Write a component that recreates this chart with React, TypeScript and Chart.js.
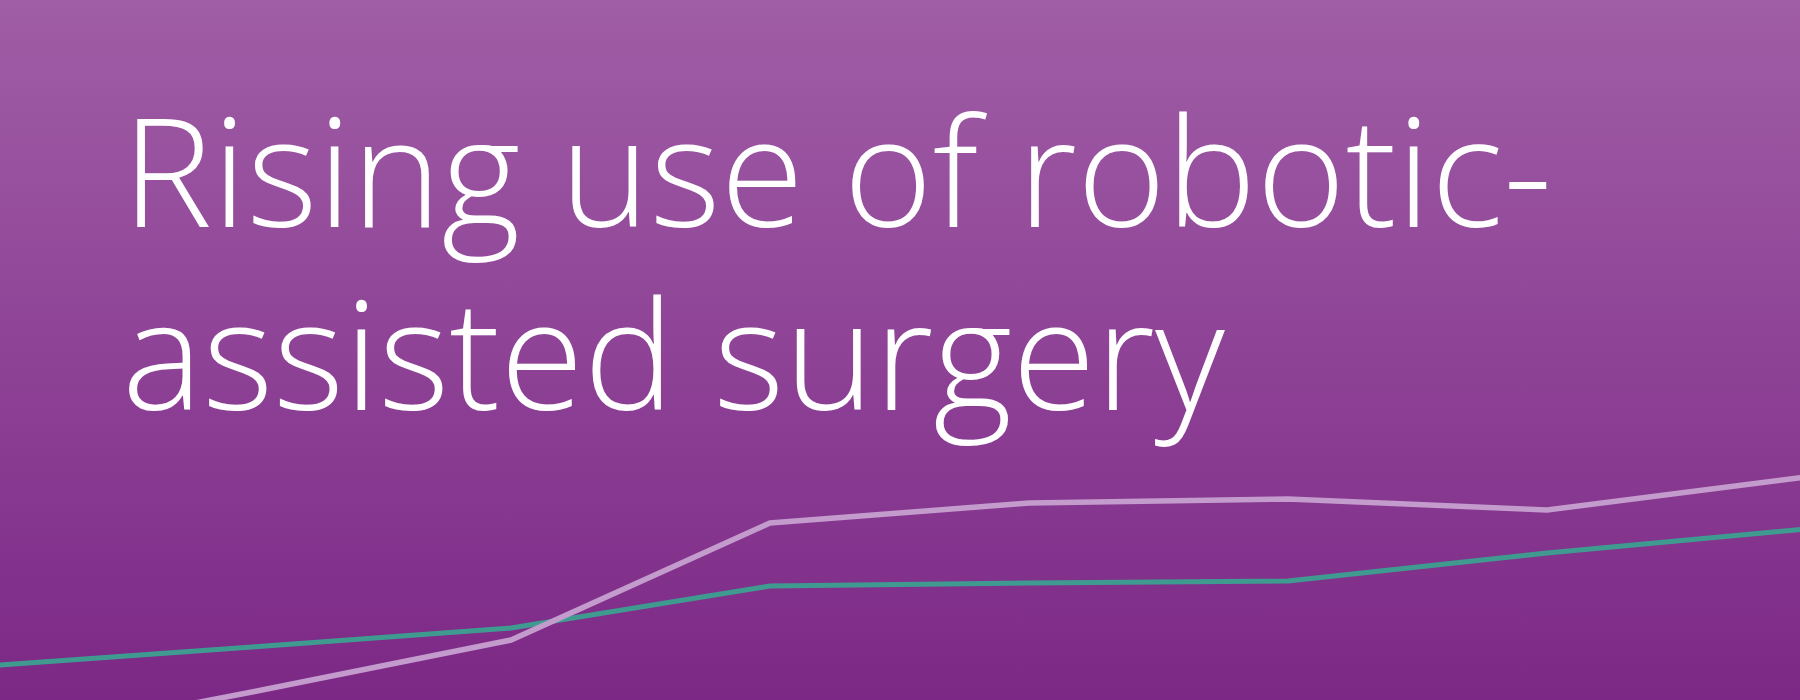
import { useEffect, useRef } from 'react';
import { Chart, registerables, type ChartConfiguration } from 'chart.js';

Chart.register(...registerables);

// Years are not shown in the graphic; they only index the points.
const YEARS = ['2012', '2013', '2014', '2015', '2016', '2017', '2018', '2019'];
const SERIES_A = [-0.2, 4.8, 10.0, 21.7, 23.7, 24.1, 23.0, 26.3];
const SERIES_B = [7.45, 9.3, 11.2, 15.4, 15.7, 15.9, 18.7, 21.1];
const Y_MIN = 4;
const Y_MAX = 74;

const TITLE = 'Rising use of robotic-assisted surgery';

function LineChart() {
  const canvasRef = useRef<HTMLCanvasElement | null>(null);
  const chartRef = useRef<Chart | null>(null);

  useEffect(() => {
    const canvas = canvasRef.current;
    if (!canvas) return;

    const config: ChartConfiguration<'line'> = {
      type: 'line',
      data: {
        labels: YEARS,
        datasets: [
          {
            label: 'Series A',
            data: SERIES_A,
            borderColor: '#c39bcc',
            borderWidth: 5.5,
            pointRadius: 0,
            tension: 0,
            fill: false,
          },
          {
            label: 'Series B',
            data: SERIES_B,
            borderColor: '#3f9b90',
            borderWidth: 5,
            pointRadius: 0,
            tension: 0,
            fill: false,
          },
        ],
      },
      options: {
        responsive: true,
        maintainAspectRatio: false,
        animation: false,
        layout: { padding: 0 },
        plugins: {
          legend: { display: false },
          tooltip: { enabled: false },
        },
        scales: {
          x: { display: false, offset: false },
          y: { display: false, min: Y_MIN, max: Y_MAX },
        },
      },
    };

    chartRef.current = new Chart(canvas, config);
    return () => chartRef.current?.destroy();
  }, []);

  return (
    <div style={{ position: 'absolute', left: -7, top: 0, width: 1813, height: 700 }}>
      <canvas ref={canvasRef} role='img' aria-label={TITLE} />
    </div>
  );
}

export default function App() {
  return (
    <div
      style={{
        position: 'fixed',
        left: 0,
        top: 0,
        width: 1800,
        height: 700,
        overflow: 'hidden',
        background: 'linear-gradient(180deg, #a05ea6 0%, #7c2886 100%)',
      }}
    >
      <LineChart />
      <div
        style={{
          position: 'absolute',
          left: 122,
          top: 77,
          width: 1500,
          color: '#ffffff',
          fontFamily: '"Open Sans", sans-serif',
          fontWeight: 300,
          fontSize: 152,
          lineHeight: '183px',
          pointerEvents: 'none',
        }}
      >
        Rising use of robotic-
        <br />
        assisted surgery
      </div>
    </div>
  );
}
